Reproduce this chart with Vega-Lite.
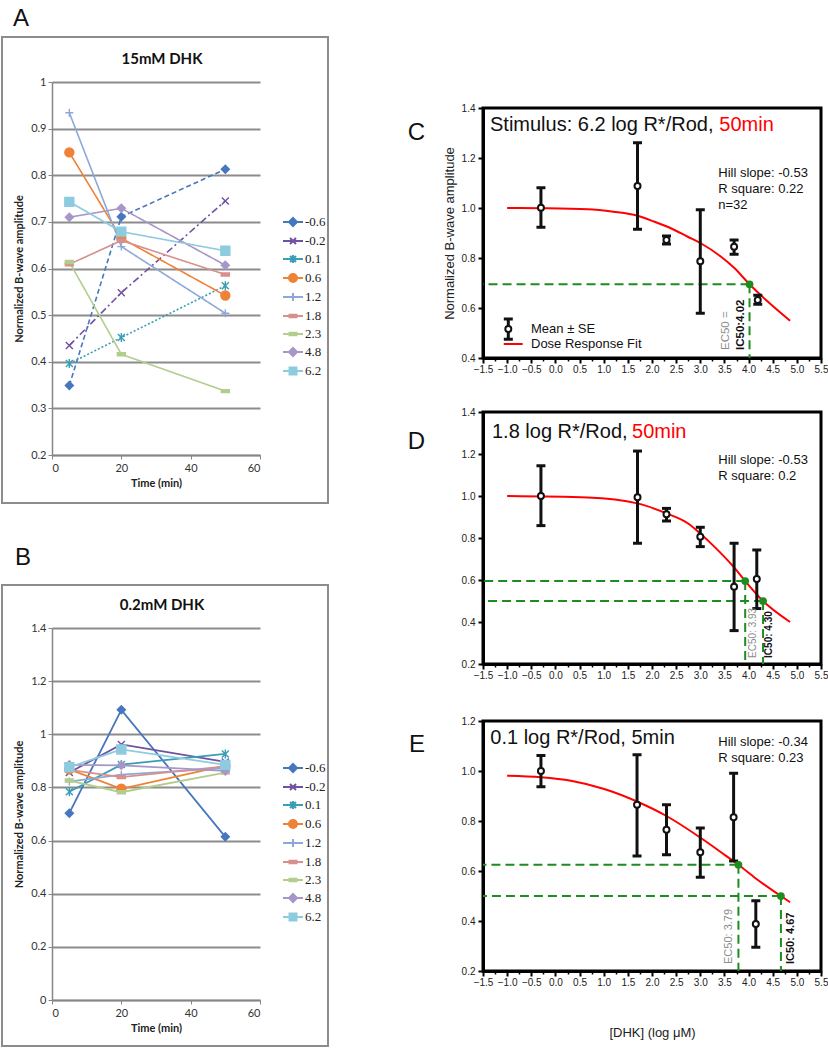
{
"$schema": "https://vega.github.io/schema/vega-lite/v6.json",
"padding": 0,
"background": "white",
"spacing": 0,
"config": {"view": {"stroke": null}},
"datasets": {
"excel": [
{"panel":"A","series":"-0.6","time":5,"amp":0.349},{"panel":"A","series":"-0.6","time":20,"amp":0.711},{"panel":"A","series":"-0.6","time":50,"amp":0.813},
{"panel":"A","series":"-0.2","time":5,"amp":0.435},{"panel":"A","series":"-0.2","time":20,"amp":0.548},{"panel":"A","series":"-0.2","time":50,"amp":0.745},
{"panel":"A","series":"0.1","time":5,"amp":0.396},{"panel":"A","series":"0.1","time":20,"amp":0.452},{"panel":"A","series":"0.1","time":50,"amp":0.563},
{"panel":"A","series":"0.6","time":5,"amp":0.849},{"panel":"A","series":"0.6","time":20,"amp":0.665},{"panel":"A","series":"0.6","time":50,"amp":0.542},
{"panel":"A","series":"1.2","time":5,"amp":0.934},{"panel":"A","series":"1.2","time":20,"amp":0.647},{"panel":"A","series":"1.2","time":50,"amp":0.504},
{"panel":"A","series":"1.8","time":5,"amp":0.609},{"panel":"A","series":"1.8","time":20,"amp":0.66},{"panel":"A","series":"1.8","time":50,"amp":0.587},
{"panel":"A","series":"2.3","time":5,"amp":0.614},{"panel":"A","series":"2.3","time":20,"amp":0.416},{"panel":"A","series":"2.3","time":50,"amp":0.337},
{"panel":"A","series":"4.8","time":5,"amp":0.71},{"panel":"A","series":"4.8","time":20,"amp":0.729},{"panel":"A","series":"4.8","time":50,"amp":0.607},
{"panel":"A","series":"6.2","time":5,"amp":0.743},{"panel":"A","series":"6.2","time":20,"amp":0.679},{"panel":"A","series":"6.2","time":50,"amp":0.638},
{"panel":"B","series":"-0.6","time":5,"amp":0.703},{"panel":"B","series":"-0.6","time":20,"amp":1.092},{"panel":"B","series":"-0.6","time":50,"amp":0.614},
{"panel":"B","series":"-0.2","time":5,"amp":0.856},{"panel":"B","series":"-0.2","time":20,"amp":0.962},{"panel":"B","series":"-0.2","time":50,"amp":0.896},
{"panel":"B","series":"0.1","time":5,"amp":0.784},{"panel":"B","series":"0.1","time":20,"amp":0.886},{"panel":"B","series":"0.1","time":50,"amp":0.926},
{"panel":"B","series":"0.6","time":5,"amp":0.868},{"panel":"B","series":"0.6","time":20,"amp":0.795},{"panel":"B","series":"0.6","time":50,"amp":0.882},
{"panel":"B","series":"1.2","time":5,"amp":0.822},{"panel":"B","series":"1.2","time":20,"amp":0.848},{"panel":"B","series":"1.2","time":50,"amp":0.873},
{"panel":"B","series":"1.8","time":5,"amp":0.866},{"panel":"B","series":"1.8","time":20,"amp":0.839},{"panel":"B","series":"1.8","time":50,"amp":0.879},
{"panel":"B","series":"2.3","time":5,"amp":0.826},{"panel":"B","series":"2.3","time":20,"amp":0.782},{"panel":"B","series":"2.3","time":50,"amp":0.856},
{"panel":"B","series":"4.8","time":5,"amp":0.885},{"panel":"B","series":"4.8","time":20,"amp":0.883},{"panel":"B","series":"4.8","time":50,"amp":0.862},
{"panel":"B","series":"6.2","time":5,"amp":0.876},{"panel":"B","series":"6.2","time":20,"amp":0.943},{"panel":"B","series":"6.2","time":50,"amp":0.885}
],
"pts": [
{"p":"C","dose":-0.3,"mean":1.001,"lo":0.923,"hi":1.081},{"p":"C","dose":1.7,"mean":1.088,"lo":0.915,"hi":1.261},{"p":"C","dose":2.3,"mean":0.872,"lo":0.856,"hi":0.888},{"p":"C","dose":3.0,"mean":0.787,"lo":0.579,"hi":0.993},{"p":"C","dose":3.7,"mean":0.845,"lo":0.815,"hi":0.872},{"p":"C","dose":4.19,"mean":0.632,"lo":0.615,"hi":0.651},
{"p":"D","dose":-0.3,"mean":1.0,"lo":0.859,"hi":1.144},{"p":"D","dose":1.7,"mean":0.994,"lo":0.775,"hi":1.214},{"p":"D","dose":2.3,"mean":0.913,"lo":0.881,"hi":0.941},{"p":"D","dose":3.0,"mean":0.806,"lo":0.759,"hi":0.851},{"p":"D","dose":3.7,"mean":0.568,"lo":0.359,"hi":0.775},{"p":"D","dose":4.17,"mean":0.605,"lo":0.464,"hi":0.743},
{"p":"E","dose":-0.3,"mean":1.0,"lo":0.937,"hi":1.062},{"p":"E","dose":1.69,"mean":0.865,"lo":0.66,"hi":1.065},{"p":"E","dose":2.3,"mean":0.765,"lo":0.665,"hi":0.865},{"p":"E","dose":3.0,"mean":0.675,"lo":0.575,"hi":0.772},{"p":"E","dose":3.69,"mean":0.815,"lo":0.64,"hi":0.991},{"p":"E","dose":4.15,"mean":0.388,"lo":0.295,"hi":0.481}
],
"fit": [
{"p":"C","dose":-1.0,"resp":1.0},{"p":"C","dose":-0.3,"resp":0.999},{"p":"C","dose":0.67,"resp":0.995},{"p":"C","dose":1.2,"resp":0.985},{"p":"C","dose":1.7,"resp":0.969},{"p":"C","dose":2.05,"resp":0.945},{"p":"C","dose":2.39,"resp":0.919},{"p":"C","dose":2.74,"resp":0.885},{"p":"C","dose":3.01,"resp":0.859},{"p":"C","dose":3.43,"resp":0.805},{"p":"C","dose":3.7,"resp":0.761},{"p":"C","dose":4.02,"resp":0.695},{"p":"C","dose":4.39,"resp":0.627},{"p":"C","dose":4.86,"resp":0.549},
{"p":"D","dose":-1.0,"resp":1.0},{"p":"D","dose":0.67,"resp":0.993},{"p":"D","dose":1.7,"resp":0.965},{"p":"D","dose":2.3,"resp":0.917},{"p":"D","dose":2.74,"resp":0.87},{"p":"D","dose":3.01,"resp":0.819},{"p":"D","dose":3.29,"resp":0.759},{"p":"D","dose":3.7,"resp":0.66},{"p":"D","dose":3.93,"resp":0.595},{"p":"D","dose":4.3,"resp":0.5},{"p":"D","dose":4.86,"resp":0.4},
{"p":"E","dose":-1.0,"resp":0.981},{"p":"E","dose":-0.3,"resp":0.975},{"p":"E","dose":0.32,"resp":0.961},{"p":"E","dose":1.01,"resp":0.928},{"p":"E","dose":1.7,"resp":0.877},{"p":"E","dose":2.29,"resp":0.821},{"p":"E","dose":2.99,"resp":0.735},{"p":"E","dose":3.43,"resp":0.675},{"p":"E","dose":3.79,"resp":0.625},{"p":"E","dose":4.15,"resp":0.57},{"p":"E","dose":4.67,"resp":0.5},{"p":"E","dose":4.86,"resp":0.475}
],
"ec": [
{"p":"C","dose":4.02,"resp":0.695},
{"p":"D","dose":3.93,"resp":0.595},{"p":"D","dose":4.3,"resp":0.5},
{"p":"E","dose":3.79,"resp":0.625},{"p":"E","dose":4.67,"resp":0.5}
]
},
"hconcat": [
{"spacing": 0, "resolve": {"legend": {"color": "independent"}}, "vconcat": [
{"width": 208, "height": 373, "view": {"stroke": null}, "layer": [
 {"data": {"values": [{}]}, "mark": {"type": "rect", "opacity": 0}, "encoding": {"x": {"datum": -15.0, "type": "quantitative"}, "x2": {"datum": 99.808}, "y": {"datum": 1.17587, "type": "quantitative"}, "y2": {"datum": 0.01126}}},
 {"data": {"values": [{}]}, "mark": {"type": "rect", "filled": false, "stroke": "#8c8c8c", "strokeWidth": 2}, "encoding": {"x": {"datum": -14.42, "type": "quantitative"}, "x2": {"datum": 79.61}, "y": {"datum": 1.0965, "type": "quantitative"}, "y2": {"datum": 0.097}}},
 {"data": {"values": [{}]}, "mark": {"type": "text", "text": "A", "font": "Liberation Sans", "fontSize": 24, "align": "left", "baseline": "alphabetic", "color": "#111"}, "encoding": {"x": {"datum": -11.25, "type": "quantitative"}, "y": {"datum": 1.1201, "type": "quantitative"}}},
 {"data": {"values": [{}]}, "mark": {"type": "text", "text": "15mM DHK", "font": "Lato", "fontSize": 15, "fontWeight": "bold", "align": "center", "baseline": "alphabetic", "color": "#111"}, "encoding": {"x": {"datum": 31.73, "type": "quantitative"}, "y": {"datum": 1.0386, "type": "quantitative"}}},
 {"data": {"name": "excel"}, "transform": [{"filter": "datum.panel === 'A'"}], "mark": {"type": "line", "strokeWidth": 1.6},
  "encoding": {
   "x": {"field": "time", "type": "quantitative", "scale": {"domain": [0, 60], "nice": false, "zero": false}, "axis": {"title": "Time (min)", "values": [0, 20, 40, 60], "grid": false, "domainColor": "#868686", "domainWidth": 1.5, "tickColor": "#868686", "tickSize": 4, "labelFont": "Lato", "labelFontSize": 11, "labelColor": "#333", "labelPadding": 3, "titleFont": "Lato", "titleFontSize": 11, "titleFontWeight": "bold", "titleColor": "#222", "titlePadding": 4}},
   "y": {"field": "amp", "type": "quantitative", "scale": {"domain": [0.2, 1.0], "nice": false, "zero": false}, "axis": {"title": "Normalized B-wave amplitude", "values": [0.2, 0.3, 0.4, 0.5, 0.6, 0.7, 0.8, 0.9, 1.0], "format": ".1~f", "grid": true, "gridColor": "#8c8c8c", "gridWidth": 2, "domainColor": "#868686", "domainWidth": 1.5, "tickColor": "#868686", "tickSize": 4, "labelFont": "Lato", "labelFontSize": 11, "labelColor": "#333", "labelPadding": 2, "titleFont": "Lato", "titleFontSize": 11, "titleFontWeight": "bold", "titleColor": "#222", "titlePadding": 6}},
   "color": {"field": "series", "type": "nominal", "scale": {"domain": ["-0.6","-0.2","0.1","0.6","1.2","1.8","2.3","4.8","6.2"], "range": ["#4677BE","#6F52A0","#3A9DB6","#EE8236","#8DA8D8","#D8908E","#B2CD8C","#A896C8","#8DCBDF"]},
     "legend": {"orient": "none", "legendX": 230, "legendY": 129, "title": null, "labelFont": "Liberation Serif", "labelFontSize": 13, "labelColor": "#222", "symbolSize": 400, "symbolStrokeWidth": 2, "rowPadding": 0, "labelOffset": 1, "padding": 0,
       "encode": {"symbols": {"update": {"shape": {"signal": "['M-1,0H1M0,-0.4L0.4,0L0,0.4L-0.4,0Z','M-1,0H1M-0.3,-0.3L0.3,0.3M-0.3,0.3L0.3,-0.3','M-1,0H1M-0.3,-0.3L0.3,0.3M-0.3,0.3L0.3,-0.3M0,-0.4V0.4','M-1,0H1M0.4,0A0.4,0.4,0,1,1,-0.4,0A0.4,0.4,0,1,1,0.4,0Z','M-1,0H1M0,-0.4V0.4','M-1,0H1M-0.35,-0.12H0.35V0.12H-0.35Z','M-1,0H1M-0.35,-0.12H0.35V0.12H-0.35Z','M-1,0H1M0,-0.4L0.4,0L0,0.4L-0.4,0Z','M-1,0H1M-0.35,-0.35H0.35V0.35H-0.35Z'][indexof(['-0.6','-0.2','0.1','0.6','1.2','1.8','2.3','4.8','6.2'], datum.value)]"}, "fill": {"scale": "color", "field": "value"}, "stroke": {"scale": "color", "field": "value"}, "strokeWidth": {"value": 2}, "opacity": {"value": 1}}}}}},
   "strokeDash": {"field": "series", "type": "nominal", "scale": {"domain": ["-0.6","-0.2","0.1","0.6","1.2","1.8","2.3","4.8","6.2"], "range": [[5,3],[7,3,2,3],[2,2],[1,0],[1,0],[1,0],[1,0],[1,0],[1,0]]}, "legend": null}
  }},
 {"data": {"name": "excel"}, "transform": [{"filter": "datum.panel === 'A'"}], "mark": {"type": "point", "filled": false, "strokeWidth": 1.4, "size": 100, "opacity": 1},
  "encoding": {
   "x": {"field": "time", "type": "quantitative"},
   "y": {"field": "amp", "type": "quantitative"},
   "color": {"field": "series", "type": "nominal"},
   "fill": {"field": "series", "type": "nominal", "scale": {"domain": ["-0.6","-0.2","0.1","0.6","1.2","1.8","2.3","4.8","6.2"], "range": ["#4677BE","#6F52A0","#3A9DB6","#EE8236","#8DA8D8","#D8908E","#B2CD8C","#A896C8","#8DCBDF"]}, "legend": null},
   "shape": {"field": "series", "type": "nominal", "scale": {"domain": ["-0.6","-0.2","0.1","0.6","1.2","1.8","2.3","4.8","6.2"], "range": ["M0,-0.8L0.8,0L0,0.8L-0.8,0Z","M-0.7,-0.7L0.7,0.7M-0.7,0.7L0.7,-0.7","M-0.7,-0.7L0.7,0.7M-0.7,0.7L0.7,-0.7M0,-0.9V0.9","M0.9,0A0.9,0.9,0,1,1,-0.9,0A0.9,0.9,0,1,1,0.9,0Z","M-0.8,0H0.8M0,-0.8V0.8","M-0.8,-0.3H0.8V0.3H-0.8Z","M-0.8,-0.3H0.8V0.3H-0.8Z","M0,-0.8L0.8,0L0,0.8L-0.8,0Z","M-0.9,-0.9H0.9V0.9H-0.9Z"]}, "legend": null}
  }}
]},
{"width": 208, "height": 372, "view": {"stroke": null}, "layer": [
 {"data": {"values": [{}]}, "mark": {"type": "rect", "opacity": 0}, "encoding": {"x": {"datum": -15.0, "type": "quantitative"}, "x2": {"datum": 99.808}, "y": {"datum": 1.71237, "type": "quantitative"}, "y2": {"datum": -0.18817}}},
 {"data": {"values": [{}]}, "mark": {"type": "rect", "filled": false, "stroke": "#8c8c8c", "strokeWidth": 2}, "encoding": {"x": {"datum": -14.42, "type": "quantitative"}, "x2": {"datum": 79.61}, "y": {"datum": 1.56183, "type": "quantitative"}, "y2": {"datum": -0.17312}}},
 {"data": {"values": [{}]}, "mark": {"type": "text", "text": "B", "font": "Liberation Sans", "fontSize": 24, "align": "left", "baseline": "alphabetic", "color": "#111"}, "encoding": {"x": {"datum": -10.67, "type": "quantitative"}, "y": {"datum": 1.6371, "type": "quantitative"}}},
 {"data": {"values": [{}]}, "mark": {"type": "text", "text": "0.2mM DHK", "font": "Lato", "fontSize": 15, "fontWeight": "bold", "align": "center", "baseline": "alphabetic", "color": "#111"}, "encoding": {"x": {"datum": 31.73, "type": "quantitative"}, "y": {"datum": 1.46774, "type": "quantitative"}}},
 {"data": {"name": "excel"}, "transform": [{"filter": "datum.panel === 'B'"}], "mark": {"type": "line", "strokeWidth": 1.8},
  "encoding": {
   "x": {"field": "time", "type": "quantitative", "scale": {"domain": [0, 60], "nice": false, "zero": false}, "axis": {"title": "Time (min)", "values": [0, 20, 40, 60], "grid": false, "domainColor": "#868686", "domainWidth": 1.5, "tickColor": "#868686", "tickSize": 4, "labelFont": "Lato", "labelFontSize": 11, "labelColor": "#333", "labelPadding": 3, "titleFont": "Lato", "titleFontSize": 11, "titleFontWeight": "bold", "titleColor": "#222", "titlePadding": 4}},
   "y": {"field": "amp", "type": "quantitative", "scale": {"domain": [0, 1.4], "nice": false, "zero": false}, "axis": {"title": "Normalized B-wave amplitude", "values": [0, 0.2, 0.4, 0.6, 0.8, 1.0, 1.2, 1.4], "format": ".1~f", "grid": true, "gridColor": "#8c8c8c", "gridWidth": 2, "domainColor": "#868686", "domainWidth": 1.5, "tickColor": "#868686", "tickSize": 4, "labelFont": "Lato", "labelFontSize": 11, "labelColor": "#333", "labelPadding": 2, "titleFont": "Lato", "titleFontSize": 11, "titleFontWeight": "bold", "titleColor": "#222", "titlePadding": 6}},
   "color": {"field": "series", "type": "nominal", "scale": {"domain": ["-0.6","-0.2","0.1","0.6","1.2","1.8","2.3","4.8","6.2"], "range": ["#4677BE","#6F52A0","#3A9DB6","#EE8236","#8DA8D8","#D8908E","#B2CD8C","#A896C8","#8DCBDF"]},
     "legend": {"orient": "none", "legendX": 230, "legendY": 129, "title": null, "labelFont": "Liberation Serif", "labelFontSize": 13, "labelColor": "#222", "symbolSize": 400, "symbolStrokeWidth": 2, "rowPadding": 0, "labelOffset": 1, "padding": 0,
       "encode": {"symbols": {"update": {"shape": {"signal": "['M-1,0H1M0,-0.4L0.4,0L0,0.4L-0.4,0Z','M-1,0H1M-0.3,-0.3L0.3,0.3M-0.3,0.3L0.3,-0.3','M-1,0H1M-0.3,-0.3L0.3,0.3M-0.3,0.3L0.3,-0.3M0,-0.4V0.4','M-1,0H1M0.4,0A0.4,0.4,0,1,1,-0.4,0A0.4,0.4,0,1,1,0.4,0Z','M-1,0H1M0,-0.4V0.4','M-1,0H1M-0.35,-0.12H0.35V0.12H-0.35Z','M-1,0H1M-0.35,-0.12H0.35V0.12H-0.35Z','M-1,0H1M0,-0.4L0.4,0L0,0.4L-0.4,0Z','M-1,0H1M-0.35,-0.35H0.35V0.35H-0.35Z'][indexof(['-0.6','-0.2','0.1','0.6','1.2','1.8','2.3','4.8','6.2'], datum.value)]"}, "fill": {"scale": "color", "field": "value"}, "stroke": {"scale": "color", "field": "value"}, "strokeWidth": {"value": 2}, "opacity": {"value": 1}}}}}}
  }},
 {"data": {"name": "excel"}, "transform": [{"filter": "datum.panel === 'B'"}], "mark": {"type": "point", "filled": false, "strokeWidth": 1.4, "size": 100, "opacity": 1},
  "encoding": {
   "x": {"field": "time", "type": "quantitative"},
   "y": {"field": "amp", "type": "quantitative"},
   "color": {"field": "series", "type": "nominal"},
   "fill": {"field": "series", "type": "nominal", "scale": {"domain": ["-0.6","-0.2","0.1","0.6","1.2","1.8","2.3","4.8","6.2"], "range": ["#4677BE","#6F52A0","#3A9DB6","#EE8236","#8DA8D8","#D8908E","#B2CD8C","#A896C8","#8DCBDF"]}, "legend": null},
   "shape": {"field": "series", "type": "nominal", "scale": {"domain": ["-0.6","-0.2","0.1","0.6","1.2","1.8","2.3","4.8","6.2"], "range": ["M0,-0.8L0.8,0L0,0.8L-0.8,0Z","M-0.7,-0.7L0.7,0.7M-0.7,0.7L0.7,-0.7","M-0.7,-0.7L0.7,0.7M-0.7,0.7L0.7,-0.7M0,-0.9V0.9","M0.9,0A0.9,0.9,0,1,1,-0.9,0A0.9,0.9,0,1,1,0.9,0Z","M-0.8,0H0.8M0,-0.8V0.8","M-0.8,-0.3H0.8V0.3H-0.8Z","M-0.8,-0.3H0.8V0.3H-0.8Z","M0,-0.8L0.8,0L0,0.8L-0.8,0Z","M-0.9,-0.9H0.9V0.9H-0.9Z"]}, "legend": null}
  }}
]}
]},
{"spacing": 0, "vconcat": [
{"width": 338, "height": 1, "view": {"stroke": null}, "data": {"values": [{}]}, "mark": {"type": "rect", "opacity": 0}, "encoding": {"x": {"datum": 0, "type": "quantitative", "scale": {"domain": [0, 1]}, "axis": null}, "x2": {"datum": 1}, "y": {"datum": 0, "type": "quantitative", "scale": {"domain": [0, 1]}, "axis": null}, "y2": {"datum": 1}}},
{"width": 338, "height": 250, "view": {"stroke": "black", "strokeWidth": 3}, "resolve": {"axis": {"x": "independent"}}, "layer": [
 {"data": {"values": [{}]}, "mark": {"type": "rect", "opacity": 0}, "encoding": {"x": {"datum": -3.1982, "type": "quantitative", "axis": {"orient": "bottom", "values": [-1.25,-0.75,-0.25,0.25,0.75,1.25,1.75,2.25,2.75,3.25,3.75,4.25,4.75,5.25], "labels": false, "domain": false, "grid": false, "title": null, "tickColor": "#000", "tickWidth": 1.5, "tickSize": 3}}, "x2": {"datum": 5.6657}, "y": {"datum": 1.492, "type": "quantitative"}, "y2": {"datum": 0.308}}},
 {"data": {"values": [{}]}, "mark": {"type": "point", "opacity": 0}, "encoding": {"x": {"datum": 0, "type": "quantitative", "axis": {"orient": "bottom", "values": [-1, 0, 1, 2, 3, 4, 5], "format": ".1f", "title": null, "grid": false, "domain": false, "tickColor": "#000", "tickWidth": 2, "tickSize": 5, "labelFont": "Liberation Sans", "labelFontSize": 10, "labelColor": "#222", "labelPadding": 1, "labelFlush": false, "labelOverlap": false}}, "y": {"datum": 1.0, "type": "quantitative"}}},
 {"layer": [
  {"data": {"name": "ec"}, "transform": [{"filter": "datum.p === 'C'"}], "mark": {"type": "rule", "color": "#1e8c1e", "strokeWidth": 2, "strokeDash": [9, 5]}, "encoding": {"x": {"field": "dose", "type": "quantitative"}, "x2": {"datum": -1.5}, "y": {"field": "resp", "type": "quantitative"}}},
  {"data": {"name": "ec"}, "transform": [{"filter": "datum.p === 'C'"}], "mark": {"type": "rule", "color": "#1e8c1e", "strokeWidth": 2, "strokeDash": [9, 5]}, "encoding": {"x": {"field": "dose", "type": "quantitative"}, "y": {"field": "resp", "type": "quantitative"}, "y2": {"datum": 0.4}}},
  {"data": {"name": "fit"}, "transform": [{"filter": "datum.p === 'C'"}], "mark": {"type": "line", "color": "#ff0000", "strokeWidth": 2, "interpolate": "monotone"}, "encoding": {"x": {"field": "dose", "type": "quantitative"}, "y": {"field": "resp", "type": "quantitative"}}},
  {"data": {"name": "pts"}, "transform": [{"filter": "datum.p === 'C'"}], "mark": {"type": "rule", "color": "#111", "strokeWidth": 3},
   "encoding": {
    "x": {"field": "dose", "type": "quantitative", "scale": {"domain": [-1.5, 5.5], "nice": false, "zero": false}, "axis": {"orient": "bottom", "values": [-1.5,-0.5,0.5,1.5,2.5,3.5,4.5,5.5], "format": ".1f", "title": null, "grid": false, "domainColor": "#000", "domainWidth": 3, "tickColor": "#000", "tickWidth": 2, "tickSize": 5, "labelFont": "Liberation Sans", "labelFontSize": 10, "labelColor": "#222", "labelPadding": 1, "labelFlush": false, "labelOverlap": false}},
    "y": {"field": "lo", "type": "quantitative", "scale": {"domain": [0.4, 1.4], "nice": false, "zero": false}, "axis": {"values": [0.4, 0.6, 0.8, 1.0, 1.2, 1.4], "format": ".1f", "title": "Normalized B-wave amplitude", "grid": false, "domainColor": "#000", "domainWidth": 3, "tickColor": "#000", "tickWidth": 2, "tickSize": 5, "labelFont": "Liberation Sans", "labelFontSize": 10, "labelColor": "#222", "labelPadding": 3, "titleFont": "Liberation Sans", "titleFontSize": 13, "titleFontWeight": "normal", "titleColor": "#222", "titlePadding": 5}},
    "y2": {"field": "hi"}}},
  {"data": {"name": "pts"}, "transform": [{"filter": "datum.p === 'C'"}], "mark": {"type": "tick", "orient": "horizontal", "color": "#111", "size": 9, "thickness": 3, "opacity": 1}, "encoding": {"x": {"field": "dose", "type": "quantitative"}, "y": {"field": "lo", "type": "quantitative"}}},
  {"data": {"name": "pts"}, "transform": [{"filter": "datum.p === 'C'"}], "mark": {"type": "tick", "orient": "horizontal", "color": "#111", "size": 9, "thickness": 3, "opacity": 1}, "encoding": {"x": {"field": "dose", "type": "quantitative"}, "y": {"field": "hi", "type": "quantitative"}}},
  {"data": {"name": "pts"}, "transform": [{"filter": "datum.p === 'C'"}], "mark": {"type": "point", "shape": "circle", "filled": true, "fill": "white", "stroke": "#111", "strokeWidth": 2, "size": 36, "opacity": 1}, "encoding": {"x": {"field": "dose", "type": "quantitative"}, "y": {"field": "mean", "type": "quantitative"}}},
  {"data": {"name": "ec"}, "transform": [{"filter": "datum.p === 'C'"}], "mark": {"type": "point", "shape": "circle", "filled": true, "color": "#1e8c1e", "size": 60, "opacity": 1}, "encoding": {"x": {"field": "dose", "type": "quantitative"}, "y": {"field": "resp", "type": "quantitative"}}},
  {"data": {"values": [{}]}, "mark": {"type": "text", "text": "C", "font": "Liberation Sans", "fontSize": 24, "align": "right", "baseline": "alphabetic", "color": "#111"}, "encoding": {"x": {"datum": -2.7012, "type": "quantitative"}, "y": {"datum": 1.272, "type": "quantitative"}}},
  {"data": {"values": [{}]}, "mark": {"type": "text", "text": "Stimulus: 6.2 log R*/Rod,", "font": "Liberation Sans", "fontSize": 20, "align": "left", "baseline": "alphabetic", "color": "#111"}, "encoding": {"x": {"datum": -1.355, "type": "quantitative"}, "y": {"datum": 1.308, "type": "quantitative"}}},
  {"data": {"values": [{}]}, "mark": {"type": "text", "text": "50min", "font": "Liberation Sans", "fontSize": 20, "align": "left", "baseline": "alphabetic", "color": "#ff0000"}, "encoding": {"x": {"datum": 3.394, "type": "quantitative"}, "y": {"datum": 1.308, "type": "quantitative"}}},
  {"data": {"values": [{}]}, "mark": {"type": "text", "text": ["Hill slope: -0.53", "R square: 0.22", "n=32"], "lineHeight": 16, "font": "Liberation Sans", "fontSize": 13, "align": "left", "baseline": "alphabetic", "color": "#111"}, "encoding": {"x": {"datum": 3.373, "type": "quantitative"}, "y": {"datum": 1.1228, "type": "quantitative"}}},
  {"data": {"values": [{}]}, "mark": {"type": "text", "text": "EC50 =", "angle": 270, "font": "Liberation Sans", "fontSize": 11.5, "align": "left", "baseline": "middle", "color": "#8c8c8c"}, "encoding": {"x": {"datum": 3.532, "type": "quantitative"}, "y": {"datum": 0.432, "type": "quantitative"}}},
  {"data": {"values": [{}]}, "mark": {"type": "text", "text": "IC50:4.02", "angle": 270, "font": "Liberation Sans", "fontSize": 11.5, "fontWeight": "bold", "align": "left", "baseline": "middle", "color": "#111"}, "encoding": {"x": {"datum": 3.843, "type": "quantitative"}, "y": {"datum": 0.432, "type": "quantitative"}}},
  {"data": {"values": [{}]}, "mark": {"type": "rule", "color": "#111", "strokeWidth": 3}, "encoding": {"x": {"datum": -0.976, "type": "quantitative"}, "y": {"datum": 0.475, "type": "quantitative"}, "y2": {"datum": 0.556}}},
  {"data": {"values": [{}]}, "mark": {"type": "tick", "orient": "horizontal", "color": "#111", "size": 9, "thickness": 3, "opacity": 1}, "encoding": {"x": {"datum": -0.976, "type": "quantitative"}, "y": {"datum": 0.475, "type": "quantitative"}}},
  {"data": {"values": [{}]}, "mark": {"type": "tick", "orient": "horizontal", "color": "#111", "size": 9, "thickness": 3, "opacity": 1}, "encoding": {"x": {"datum": -0.976, "type": "quantitative"}, "y": {"datum": 0.556, "type": "quantitative"}}},
  {"data": {"values": [{}]}, "mark": {"type": "point", "shape": "circle", "filled": true, "fill": "white", "stroke": "#111", "strokeWidth": 2, "size": 36, "opacity": 1}, "encoding": {"x": {"datum": -0.976, "type": "quantitative"}, "y": {"datum": 0.516, "type": "quantitative"}}},
  {"data": {"values": [{}]}, "mark": {"type": "rule", "color": "#ff0000", "strokeWidth": 2}, "encoding": {"x": {"datum": -1.071, "type": "quantitative"}, "x2": {"datum": -0.678}, "y": {"datum": 0.456, "type": "quantitative"}}},
  {"data": {"values": [{}]}, "mark": {"type": "text", "text": "Mean ± SE", "font": "Liberation Sans", "fontSize": 13, "align": "left", "baseline": "middle", "color": "#111"}, "encoding": {"x": {"datum": -0.506, "type": "quantitative"}, "y": {"datum": 0.516, "type": "quantitative"}}},
  {"data": {"values": [{}]}, "mark": {"type": "text", "text": "Dose Response Fit", "font": "Liberation Sans", "fontSize": 13, "align": "left", "baseline": "middle", "color": "#111"}, "encoding": {"x": {"datum": -0.506, "type": "quantitative"}, "y": {"datum": 0.456, "type": "quantitative"}}}
 ]}
]},
{"width": 338, "height": 252, "view": {"stroke": "black", "strokeWidth": 3}, "resolve": {"axis": {"x": "independent"}}, "layer": [
 {"data": {"values": [{}]}, "mark": {"type": "rect", "opacity": 0}, "encoding": {"x": {"datum": -3.1982, "type": "quantitative", "axis": {"orient": "bottom", "values": [-1.25,-0.75,-0.25,0.25,0.75,1.25,1.75,2.25,2.75,3.25,3.75,4.25,4.75,5.25], "labels": false, "domain": false, "grid": false, "title": null, "tickColor": "#000", "tickWidth": 1.5, "tickSize": 3}}, "x2": {"datum": 5.6657}, "y": {"datum": 1.52857, "type": "quantitative"}, "y2": {"datum": 0.1}}},
 {"data": {"values": [{}]}, "mark": {"type": "point", "opacity": 0}, "encoding": {"x": {"datum": 0, "type": "quantitative", "axis": {"orient": "bottom", "values": [-1, 0, 1, 2, 3, 4, 5], "format": ".1f", "title": null, "grid": false, "domain": false, "tickColor": "#000", "tickWidth": 2, "tickSize": 5, "labelFont": "Liberation Sans", "labelFontSize": 10, "labelColor": "#222", "labelPadding": 1, "labelFlush": false, "labelOverlap": false}}, "y": {"datum": 1.0, "type": "quantitative"}}},
 {"layer": [
  {"data": {"name": "ec"}, "transform": [{"filter": "datum.p === 'D'"}], "mark": {"type": "rule", "color": "#1e8c1e", "strokeWidth": 2, "strokeDash": [9, 5]}, "encoding": {"x": {"field": "dose", "type": "quantitative"}, "x2": {"datum": -1.5}, "y": {"field": "resp", "type": "quantitative"}}},
  {"data": {"name": "ec"}, "transform": [{"filter": "datum.p === 'D'"}], "mark": {"type": "rule", "color": "#1e8c1e", "strokeWidth": 2, "strokeDash": [9, 5]}, "encoding": {"x": {"field": "dose", "type": "quantitative"}, "y": {"field": "resp", "type": "quantitative"}, "y2": {"datum": 0.2}}},
  {"data": {"name": "fit"}, "transform": [{"filter": "datum.p === 'D'"}], "mark": {"type": "line", "color": "#ff0000", "strokeWidth": 2, "interpolate": "monotone"}, "encoding": {"x": {"field": "dose", "type": "quantitative"}, "y": {"field": "resp", "type": "quantitative"}}},
  {"data": {"name": "pts"}, "transform": [{"filter": "datum.p === 'D'"}], "mark": {"type": "rule", "color": "#111", "strokeWidth": 3},
   "encoding": {
    "x": {"field": "dose", "type": "quantitative", "scale": {"domain": [-1.5, 5.5], "nice": false, "zero": false}, "axis": {"orient": "bottom", "values": [-1.5,-0.5,0.5,1.5,2.5,3.5,4.5,5.5], "format": ".1f", "title": null, "grid": false, "domainColor": "#000", "domainWidth": 3, "tickColor": "#000", "tickWidth": 2, "tickSize": 5, "labelFont": "Liberation Sans", "labelFontSize": 10, "labelColor": "#222", "labelPadding": 1, "labelFlush": false, "labelOverlap": false}},
    "y": {"field": "lo", "type": "quantitative", "scale": {"domain": [0.2, 1.4], "nice": false, "zero": false}, "axis": {"values": [0.2, 0.4, 0.6, 0.8, 1.0, 1.2, 1.4], "format": ".1f", "title": null, "grid": false, "domainColor": "#000", "domainWidth": 3, "tickColor": "#000", "tickWidth": 2, "tickSize": 5, "labelFont": "Liberation Sans", "labelFontSize": 10, "labelColor": "#222", "labelPadding": 3}},
    "y2": {"field": "hi"}}},
  {"data": {"name": "pts"}, "transform": [{"filter": "datum.p === 'D'"}], "mark": {"type": "tick", "orient": "horizontal", "color": "#111", "size": 9, "thickness": 3, "opacity": 1}, "encoding": {"x": {"field": "dose", "type": "quantitative"}, "y": {"field": "lo", "type": "quantitative"}}},
  {"data": {"name": "pts"}, "transform": [{"filter": "datum.p === 'D'"}], "mark": {"type": "tick", "orient": "horizontal", "color": "#111", "size": 9, "thickness": 3, "opacity": 1}, "encoding": {"x": {"field": "dose", "type": "quantitative"}, "y": {"field": "hi", "type": "quantitative"}}},
  {"data": {"name": "pts"}, "transform": [{"filter": "datum.p === 'D'"}], "mark": {"type": "point", "shape": "circle", "filled": true, "fill": "white", "stroke": "#111", "strokeWidth": 2, "size": 36, "opacity": 1}, "encoding": {"x": {"field": "dose", "type": "quantitative"}, "y": {"field": "mean", "type": "quantitative"}}},
  {"data": {"name": "ec"}, "transform": [{"filter": "datum.p === 'D'"}], "mark": {"type": "point", "shape": "circle", "filled": true, "color": "#1e8c1e", "size": 60, "opacity": 1}, "encoding": {"x": {"field": "dose", "type": "quantitative"}, "y": {"field": "resp", "type": "quantitative"}}},
  {"data": {"values": [{}]}, "mark": {"type": "text", "text": "D", "font": "Liberation Sans", "fontSize": 24, "align": "right", "baseline": "alphabetic", "color": "#111"}, "encoding": {"x": {"datum": -2.7012, "type": "quantitative"}, "y": {"datum": 1.2238, "type": "quantitative"}}},
  {"data": {"values": [{}]}, "mark": {"type": "text", "text": "1.8 log R*/Rod,", "font": "Liberation Sans", "fontSize": 20, "align": "left", "baseline": "alphabetic", "color": "#111"}, "encoding": {"x": {"datum": -1.314, "type": "quantitative"}, "y": {"datum": 1.2762, "type": "quantitative"}}},
  {"data": {"values": [{}]}, "mark": {"type": "text", "text": "50min", "font": "Liberation Sans", "fontSize": 20, "align": "left", "baseline": "alphabetic", "color": "#ff0000"}, "encoding": {"x": {"datum": 1.586, "type": "quantitative"}, "y": {"datum": 1.2762, "type": "quantitative"}}},
  {"data": {"values": [{}]}, "mark": {"type": "text", "text": ["Hill slope: -0.53", "R square: 0.2"], "lineHeight": 16, "font": "Liberation Sans", "fontSize": 13, "align": "left", "baseline": "alphabetic", "color": "#111"}, "encoding": {"x": {"datum": 3.373, "type": "quantitative"}, "y": {"datum": 1.1524, "type": "quantitative"}}},
  {"data": {"values": [{}]}, "mark": {"type": "text", "text": "EC50: 3.93", "angle": 270, "font": "Liberation Sans", "fontSize": 10, "align": "left", "baseline": "middle", "color": "#8c8c8c"}, "encoding": {"x": {"datum": 4.09, "type": "quantitative"}, "y": {"datum": 0.229, "type": "quantitative"}}},
  {"data": {"values": [{}]}, "mark": {"type": "text", "text": "IC50: 4.30", "angle": 270, "font": "Liberation Sans", "fontSize": 10, "fontWeight": "bold", "align": "left", "baseline": "middle", "color": "#111"}, "encoding": {"x": {"datum": 4.42, "type": "quantitative"}, "y": {"datum": 0.229, "type": "quantitative"}}}
 ]}
]},
{"width": 338, "height": 250, "view": {"stroke": "black", "strokeWidth": 3}, "resolve": {"axis": {"x": "independent"}}, "layer": [
 {"data": {"values": [{}]}, "mark": {"type": "rect", "opacity": 0}, "encoding": {"x": {"datum": -3.1982, "type": "quantitative", "axis": {"orient": "bottom", "values": [-1.25,-0.75,-0.25,0.25,0.75,1.25,1.75,2.25,2.75,3.25,3.75,4.25,4.75,5.25], "labels": false, "domain": false, "grid": false, "title": null, "tickColor": "#000", "tickWidth": 1.5, "tickSize": 3}}, "x2": {"datum": 5.6657}, "y": {"datum": 1.328, "type": "quantitative"}, "y2": {"datum": -0.112}}},
 {"data": {"values": [{}]}, "mark": {"type": "point", "opacity": 0}, "encoding": {"x": {"datum": 0, "type": "quantitative", "axis": {"orient": "bottom", "values": [-1, 0, 1, 2, 3, 4, 5], "format": ".1f", "title": null, "grid": false, "domain": false, "tickColor": "#000", "tickWidth": 2, "tickSize": 5, "labelFont": "Liberation Sans", "labelFontSize": 10, "labelColor": "#222", "labelPadding": 1, "labelFlush": false, "labelOverlap": false}}, "y": {"datum": 1.0, "type": "quantitative"}}},
 {"layer": [
  {"data": {"name": "ec"}, "transform": [{"filter": "datum.p === 'E'"}], "mark": {"type": "rule", "color": "#1e8c1e", "strokeWidth": 2, "strokeDash": [9, 5]}, "encoding": {"x": {"field": "dose", "type": "quantitative"}, "x2": {"datum": -1.5}, "y": {"field": "resp", "type": "quantitative"}}},
  {"data": {"name": "ec"}, "transform": [{"filter": "datum.p === 'E'"}], "mark": {"type": "rule", "color": "#1e8c1e", "strokeWidth": 2, "strokeDash": [9, 5]}, "encoding": {"x": {"field": "dose", "type": "quantitative"}, "y": {"field": "resp", "type": "quantitative"}, "y2": {"datum": 0.2}}},
  {"data": {"name": "fit"}, "transform": [{"filter": "datum.p === 'E'"}], "mark": {"type": "line", "color": "#ff0000", "strokeWidth": 2, "interpolate": "monotone"}, "encoding": {"x": {"field": "dose", "type": "quantitative"}, "y": {"field": "resp", "type": "quantitative"}}},
  {"data": {"name": "pts"}, "transform": [{"filter": "datum.p === 'E'"}], "mark": {"type": "rule", "color": "#111", "strokeWidth": 3},
   "encoding": {
    "x": {"field": "dose", "type": "quantitative", "scale": {"domain": [-1.5, 5.5], "nice": false, "zero": false}, "axis": {"orient": "bottom", "values": [-1.5,-0.5,0.5,1.5,2.5,3.5,4.5,5.5], "format": ".1f", "title": "[DHK] (log μM)", "grid": false, "domainColor": "#000", "domainWidth": 3, "tickColor": "#000", "tickWidth": 2, "tickSize": 5, "labelFont": "Liberation Sans", "labelFontSize": 10, "labelColor": "#222", "labelPadding": 1, "labelFlush": false, "labelOverlap": false, "titleFont": "Liberation Sans", "titleFontSize": 13, "titleFontWeight": "normal", "titleColor": "#222", "titlePadding": 39}},
    "y": {"field": "lo", "type": "quantitative", "scale": {"domain": [0.2, 1.2], "nice": false, "zero": false}, "axis": {"values": [0.2, 0.4, 0.6, 0.8, 1.0, 1.2], "format": ".1f", "title": null, "grid": false, "domainColor": "#000", "domainWidth": 3, "tickColor": "#000", "tickWidth": 2, "tickSize": 5, "labelFont": "Liberation Sans", "labelFontSize": 10, "labelColor": "#222", "labelPadding": 3}},
    "y2": {"field": "hi"}}},
  {"data": {"name": "pts"}, "transform": [{"filter": "datum.p === 'E'"}], "mark": {"type": "tick", "orient": "horizontal", "color": "#111", "size": 9, "thickness": 3, "opacity": 1}, "encoding": {"x": {"field": "dose", "type": "quantitative"}, "y": {"field": "lo", "type": "quantitative"}}},
  {"data": {"name": "pts"}, "transform": [{"filter": "datum.p === 'E'"}], "mark": {"type": "tick", "orient": "horizontal", "color": "#111", "size": 9, "thickness": 3, "opacity": 1}, "encoding": {"x": {"field": "dose", "type": "quantitative"}, "y": {"field": "hi", "type": "quantitative"}}},
  {"data": {"name": "pts"}, "transform": [{"filter": "datum.p === 'E'"}], "mark": {"type": "point", "shape": "circle", "filled": true, "fill": "white", "stroke": "#111", "strokeWidth": 2, "size": 36, "opacity": 1}, "encoding": {"x": {"field": "dose", "type": "quantitative"}, "y": {"field": "mean", "type": "quantitative"}}},
  {"data": {"name": "ec"}, "transform": [{"filter": "datum.p === 'E'"}], "mark": {"type": "point", "shape": "circle", "filled": true, "color": "#1e8c1e", "size": 60, "opacity": 1}, "encoding": {"x": {"field": "dose", "type": "quantitative"}, "y": {"field": "resp", "type": "quantitative"}}},
  {"data": {"values": [{}]}, "mark": {"type": "text", "text": "E", "font": "Liberation Sans", "fontSize": 24, "align": "right", "baseline": "alphabetic", "color": "#111"}, "encoding": {"x": {"datum": -2.7012, "type": "quantitative"}, "y": {"datum": 1.076, "type": "quantitative"}}},
  {"data": {"values": [{}]}, "mark": {"type": "text", "text": "0.1 log R*/Rod, 5min", "font": "Liberation Sans", "fontSize": 20, "align": "left", "baseline": "alphabetic", "color": "#111"}, "encoding": {"x": {"datum": -1.349, "type": "quantitative"}, "y": {"datum": 1.108, "type": "quantitative"}}},
  {"data": {"values": [{}]}, "mark": {"type": "text", "text": ["Hill slope: -0.34", "R square: 0.23"], "lineHeight": 16, "font": "Liberation Sans", "fontSize": 13, "align": "left", "baseline": "alphabetic", "color": "#111"}, "encoding": {"x": {"datum": 3.373, "type": "quantitative"}, "y": {"datum": 1.0988, "type": "quantitative"}}},
  {"data": {"values": [{}]}, "mark": {"type": "text", "text": "EC50: 3.79", "angle": 270, "font": "Liberation Sans", "fontSize": 11, "align": "left", "baseline": "middle", "color": "#8c8c8c"}, "encoding": {"x": {"datum": 3.601, "type": "quantitative"}, "y": {"datum": 0.228, "type": "quantitative"}}},
  {"data": {"values": [{}]}, "mark": {"type": "text", "text": "IC50: 4.67", "angle": 270, "font": "Liberation Sans", "fontSize": 11, "fontWeight": "bold", "align": "left", "baseline": "middle", "color": "#111"}, "encoding": {"x": {"datum": 4.879, "type": "quantitative"}, "y": {"datum": 0.228, "type": "quantitative"}}}
 ]}
]}
]}
]
}
